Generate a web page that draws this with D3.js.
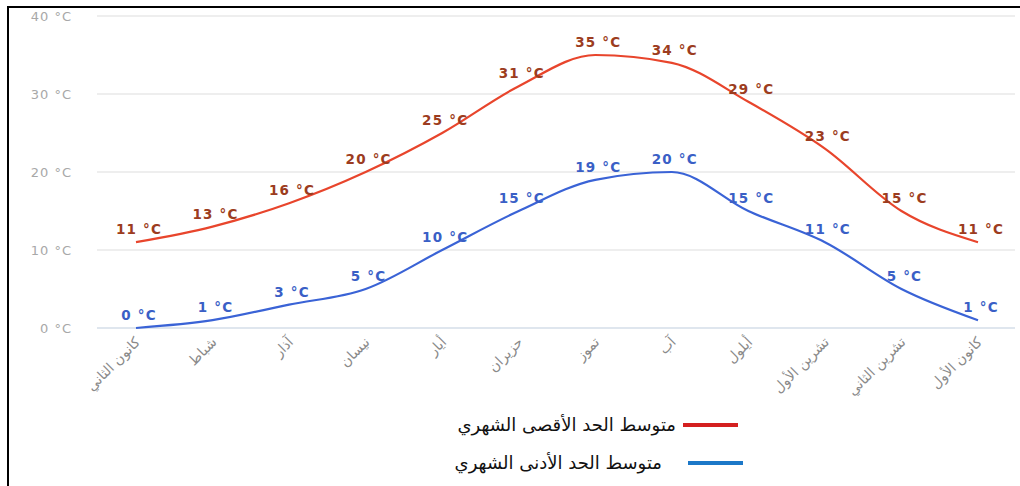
<!DOCTYPE html>
<html><head><meta charset="utf-8">
<script src="https://cdn.jsdelivr.net/npm/d3@7"></script>
<style>body{margin:0;background:#fff}svg{display:block}</style>
</head><body>
<svg id="c" width="1020" height="486"></svg>
<script>
const months = ["كانون الثاني","شباط","آذار","نيسان","أيار","حزيران","تموز","آب","أيلول","تشرين الأول","تشرين الثاني","كانون الأول"];
const maxTemps = [11,13,16,20,25,31,35,34,29,23,15,11];
const minTemps = [0,1,3,5,10,15,19,20,15,11,5,1];
const yTicks = [0,10,20,30,40];
const legendLabels = ["متوسط الحد الأقصى الشهري","متوسط الحد الأدنى الشهري"];

const svg = d3.select("#c");
const x = d3.scalePoint().domain(months).range([136, 978]);
const y = d3.scaleLinear().domain([0, 40]).range([328, 16]);

// frame
svg.append("line").attr("x1",8).attr("x2",8).attr("y1",6).attr("y2",486).attr("stroke","#000").attr("stroke-width",2);
svg.append("line").attr("x1",7).attr("x2",1020).attr("y1",7).attr("y2",7).attr("stroke","#000").attr("stroke-width",2);

// grid
svg.append("g").selectAll("line").data(yTicks).join("line")
  .attr("x1",97).attr("x2",1015).attr("y1",d=>y(d)).attr("y2",d=>y(d))
  .attr("stroke",d=>d===0?"#dfe6ee":"#eeeeee").attr("stroke-width",2);

// y labels
svg.append("g").selectAll("text").data(yTicks).join("text")
  .attr("x",72).attr("y",d=>y(d)+5).attr("text-anchor","end")
  .attr("font-family","DejaVu Sans, sans-serif").attr("font-size",13).attr("letter-spacing",1).attr("fill","#a8a8a8")
  .text(d=>d+" °C");

// x labels
svg.append("g").selectAll("text").data(months).join("text")
  .attr("transform",d=>`translate(${x(d)+5},${343}) rotate(-45)`)
  .attr("text-anchor","end")
  .attr("font-family","DejaVu Sans, sans-serif").attr("font-size",14).attr("fill","#8a8a8a")
  .text(d=>d);

const line = d3.line().x((d,i)=>x(months[i])).y(d=>y(d)).curve(d3.curveMonotoneX);

const series = [
  {vals:maxTemps, line:"#e8452c", label:"#9c3c20"},
  {vals:minTemps, line:"#3a63d6", label:"#3a5fc6"}
];
series.forEach(s=>{
  svg.append("path").attr("d",line(s.vals)).attr("fill","none").attr("stroke",s.line).attr("stroke-width",2.2);
  svg.append("g").selectAll("text").data(s.vals).join("text")
    .attr("x",(d,i)=>x(months[i])+3).attr("y",d=>y(d)-8)
    .attr("text-anchor","middle")
    .attr("font-family","DejaVu Sans, sans-serif").attr("font-weight","bold").attr("font-size",13.5).attr("letter-spacing",1.2)
    .attr("fill",s.label)
    .text(d=>d+" °C");
});

// legend
const legColors = ["#d42020","#1c78c8"];
const legY = [425, 463];
const legX1 = [683, 688];
const legTextX = [676, 662];
legendLabels.forEach((t,i)=>{
  svg.append("line").attr("x1",legX1[i]).attr("x2",legX1[i]+55).attr("y1",legY[i]).attr("y2",legY[i])
    .attr("stroke",legColors[i]).attr("stroke-width",4);
  svg.append("text").attr("x",legTextX[i]).attr("y",legY[i]+6).attr("text-anchor","end")
    .attr("font-family","DejaVu Sans, sans-serif").attr("font-size",18).attr("fill","#111")
    .text(t);
});
</script>
</body></html>
